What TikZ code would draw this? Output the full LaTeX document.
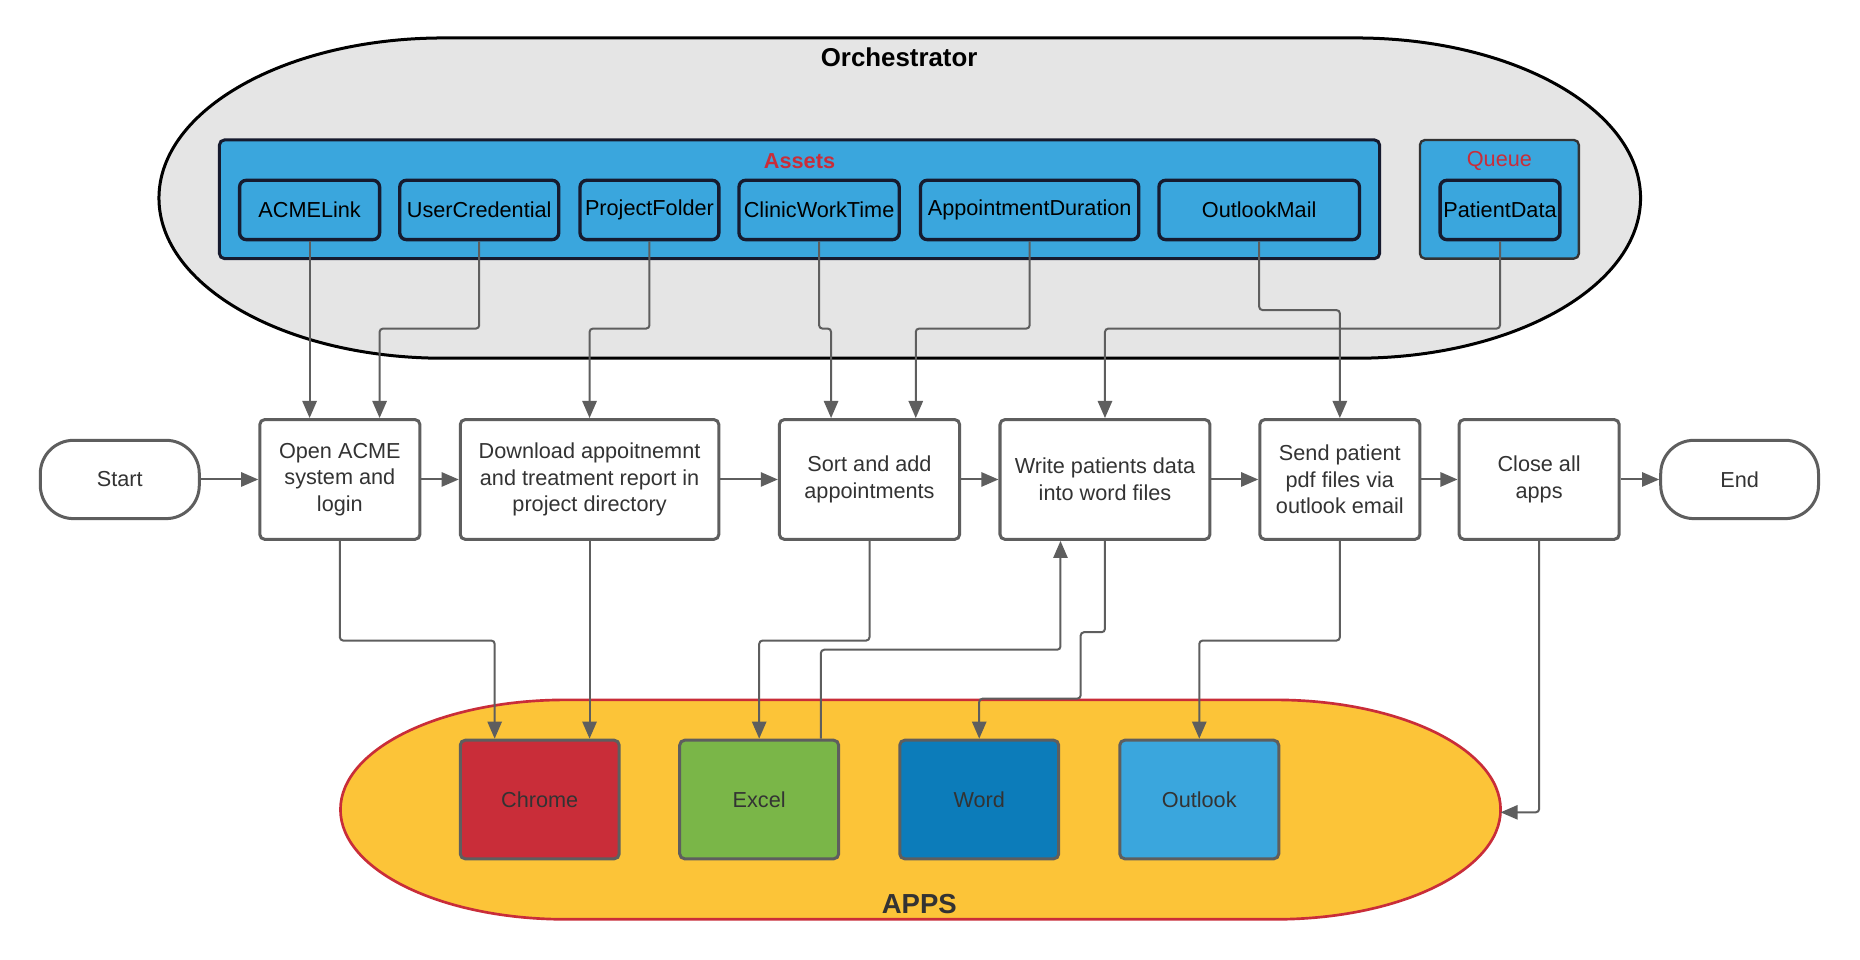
\documentclass[tikz,border=0pt]{standalone}
\usepackage{fontspec}
\setmainfont{Liberation Sans}
\usetikzlibrary{arrows.meta,positioning}
\definecolor{lcgray}{HTML}{5E5E5E}
\definecolor{lclight}{HTML}{E5E5E5}
\definecolor{lcblue}{HTML}{3AA6DD}
\definecolor{lcdark}{HTML}{0C7CBA}
\definecolor{lcred}{HTML}{C92D39}
\definecolor{lcgreen}{HTML}{7AB648}
\definecolor{lcyellow}{HTML}{FCC438}
\definecolor{lcink}{HTML}{161A2E}
\definecolor{lctext}{HTML}{333333}

\begin{document}
\begin{tikzpicture}[
  stepbox/.style={draw=lcgray, line width=1.8pt, fill=white, rounded corners=3pt, minimum height=2.525cm, align=center, font=\fontsize{13}{16}\selectfont, text=lctext, inner sep=1pt},
  termbox/.style={draw=lcgray, line width=1.8pt, fill=white, rounded corners=0.7cm, minimum width=3.35cm, minimum height=1.65cm, font=\fontsize{13}{16}\selectfont, text=lctext},
  assetbox/.style={draw=lcink, line width=2pt, fill=lcblue, rounded corners=4pt, minimum height=1.25cm, inner sep=0pt, font=\fontsize{13}{16}\selectfont},
  groupbox/.style={draw=lcink, line width=1.8pt, fill=lcblue, rounded corners=3pt, minimum height=2.5cm},
  appbox/.style={draw=lcgray, line width=1.8pt, rounded corners=3pt, minimum width=3.35cm, minimum height=2.5cm, font=\fontsize{13}{16}\selectfont, text=lctext},
  link/.style={draw=lcgray, line width=1.2pt, rounded corners=2pt, -{Triangle[length=3.6mm,width=3mm]}}]
\fill[white] (0,0) rectangle (39.2,20.225);
\useasboundingbox (0,0) rectangle (39.2,20.225);
% Orchestrator and APPS containers
\draw[line width=1.8pt, fill=lclight] (9.35,19.425) -- (28.575,19.425) arc[start angle=90, end angle=-90, x radius=6, y radius=3.375] -- (9.35,12.675) arc[start angle=270, end angle=90, x radius=6, y radius=3.375] -- cycle;
\draw[line width=1.6pt, draw=lcred, fill=lcyellow] (11.925,5.475) -- (26.875,5.475) arc[start angle=90, end angle=-90, x radius=4.75, y radius=2.3125] -- (11.925,0.85) arc[start angle=270, end angle=90, x radius=4.75, y radius=2.3125] -- cycle;
\node[font=\bfseries\fontsize{15.5}{18}\selectfont] (orch) at (18.95,19.025) {Orchestrator};
\node[font=\bfseries\fontsize{16.5}{20}\selectfont, text=lctext] (apps) at (19.375,1.175) {APPS};
% Assets and Queue
\node[groupbox, minimum width=24.45cm] (assets) at (16.85,16.025) {};
\node[font=\bfseries\fontsize{13}{16}\selectfont, text=lcred] (assetslbl) at (16.85,16.825) {Assets};
\node[groupbox, draw=lctext, line width=1.4pt, minimum width=3.35cm] (queue) at (31.6,16.025) {};
\node[font=\fontsize{13}{16}\selectfont, text=lcred] (queuelbl) at (31.6,16.825) {Queue};
\node[assetbox, minimum width=2.95cm] (acmelink) at (6.525,15.8) {ACMELink};
\node[assetbox, minimum width=3.35cm] (usercred) at (10.1,15.8) {UserCredential};
\node[assetbox, minimum width=2.925cm] (projfolder) at (13.6875,15.8) {ProjectFolder};
\node[assetbox, minimum width=3.375cm] (clinictime) at (17.2625,15.8) {ClinicWorkTime};
\node[assetbox, minimum width=4.6cm] (apptdur) at (21.7,15.8) {AppointmentDuration};
\node[assetbox, minimum width=4.225cm] (outlookmail) at (26.5375,15.8) {OutlookMail};
\node[assetbox, minimum width=2.525cm] (patientdata) at (31.6125,15.8) {PatientData};
% Process steps
\node[termbox] (start) at (2.525,10.12) {Start};
\node[stepbox, minimum width=3.375cm] (open) at (7.1625,10.12) {Open ACME\\system and\\login};
\node[stepbox, minimum width=5.45cm] (download) at (12.425,10.12) {Download appoitnemnt\\and treatment report in\\project directory};
\node[stepbox, minimum width=3.8cm] (sort) at (18.325,10.12) {Sort and add\\appointments};
\node[stepbox, minimum width=4.425cm] (write) at (23.2875,10.12) {Write patients data\\into word files};
\node[stepbox, minimum width=3.375cm] (send) at (28.2375,10.12) {Send patient\\pdf files via\\outlook email};
\node[stepbox, minimum width=3.375cm] (close) at (32.4375,10.12) {Close all\\apps};
\node[termbox, minimum width=3.325cm] (end) at (36.6625,10.12) {End};
% Apps
\node[appbox, fill=lcred] (chrome) at (11.375,3.375) {Chrome};
\node[appbox, fill=lcgreen] (excel) at (16.0,3.375) {Excel};
\node[appbox, fill=lcdark] (word) at (20.6375,3.375) {Word};
\node[appbox, fill=lcblue] (outlook) at (25.275,3.375) {Outlook};
\coordinate (upper) at (0,13.3);
\coordinate (mailbend) at (0,13.69);
\coordinate (lower) at (0,6.725);
\coordinate (appsend) at (31.625,3.105);
% Flow
\foreach \a/\b in {start/open, open/download, download/sort, sort/write, write/send, send/close, close/end}
  \draw[link] (\a) -- (\b);
% Assets to steps
\draw[link] (acmelink.south) -- (acmelink.south |- open.north);
\draw[link] (usercred.south) -- (usercred.south |- upper) -| ([xshift=0.8375cm]open.north);
\draw[link] (projfolder.south) -- (projfolder.south |- upper) -| (download.north);
\draw[link] (clinictime.south) -- (clinictime.south |- upper) -| ([xshift=-0.81cm]sort.north);
\draw[link] (apptdur.south) -- (apptdur.south |- upper) -| ([xshift=0.975cm]sort.north);
\draw[link] (outlookmail.south) -- (outlookmail.south |- mailbend) -| (send.north);
\draw[link] (patientdata.south) -- (patientdata.south |- upper) -| (write.north);
% Steps to apps
\draw[link] (open.south) -- (open.south |- lower) -| ([xshift=-0.95cm]chrome.north);
\draw[link] (download.south) -- (download.south |- chrome.north);
\draw[link] (sort.south) -- (sort.south |- lower) -| (excel.north);
\draw[link] ([xshift=1.3cm]excel.north) -- ++(0,1.875) -| ([xshift=-0.9375cm]write.south);
\draw[link] (write.south) -- ++(0,-1.925) -- ++(-0.5125,0) -- ++(0,-1.4) -| (word.north);
\draw[link] (send.south) -- (send.south |- lower) -| (outlook.north);
\draw[link] (close.south) |- (appsend);
\end{tikzpicture}
\end{document}
